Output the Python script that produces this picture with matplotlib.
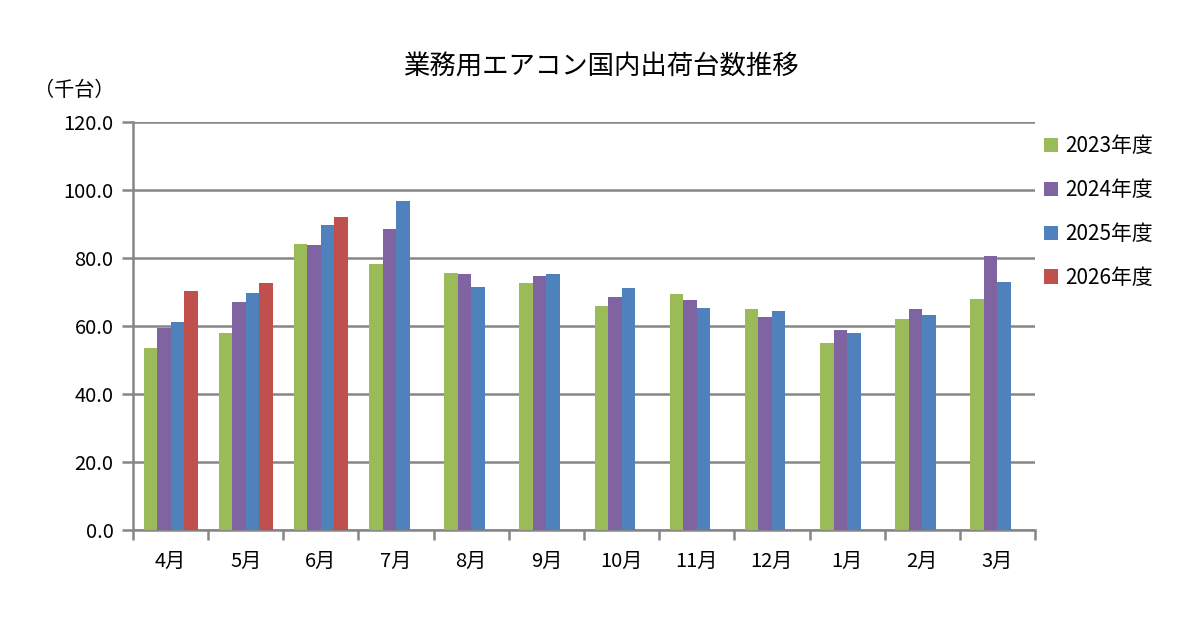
import numpy as np
import matplotlib
matplotlib.use('Agg')
import matplotlib.pyplot as plt

plt.rcParams['font.family'] = ['Noto Sans CJK JP', 'DejaVu Sans']

months = ['4月', '5月', '6月', '7月', '8月', '9月', '10月', '11月', '12月', '1月', '2月', '3月']
fy2023 = [53.5, 57.9, 84.2, 78.3, 75.6, 72.7, 65.9, 69.4, 65.0, 55.0, 62.0, 67.9]
fy2024 = [59.4, 67.1, 83.9, 88.6, 75.3, 74.8, 68.5, 67.6, 62.6, 58.8, 65.0, 80.6]
fy2025 = [61.2, 69.8, 89.8, 96.8, 71.5, 75.3, 71.2, 65.3, 64.4, 57.9, 63.2, 73.0]
fy2026 = [70.3, 72.7, 92.1, 0, 0, 0, 0, 0, 0, 0, 0, 0]
n2026 = 3  # months reported so far

series = [('2023年度', fy2023, '#9BBB59'),
          ('2024年度', fy2024, '#8064A2'),
          ('2025年度', fy2025, '#4F81BD'),
          ('2026年度', fy2026, '#C0504D')]

fig = plt.figure(figsize=(12.01, 6.28), dpi=100)
ax = fig.add_axes([133/1201, 1-530/628, (1035-133)/1201, (530-122)/628])

x = np.arange(len(months))
w = 0.18
for i, (name, vals, col) in enumerate(series):
    pos = x + (i - 1.5)*w
    if name == '2026年度':
        ax.bar(pos[:n2026], vals[:n2026], w, color=col, label=name, zorder=3)
    else:
        ax.bar(pos, vals, w, color=col, label=name, zorder=3)

grey = '#868686'
fs = 14.5
ax.set_ylim(0, 120)
ax.set_xlim(-0.5, len(months)-0.5)
ax.set_yticks(np.arange(0, 121, 20))
ax.set_yticklabels(['%.1f' % v for v in np.arange(0, 121, 20)], fontsize=fs)
ax.yaxis.grid(True, color=grey, lw=1.8, zorder=0)
ax.set_xticks(x)
ax.set_xticklabels(months, fontsize=fs)
ax.set_xticks(np.arange(-0.5, len(months), 1), minor=True)
ax.tick_params(axis='x', which='major', length=0, pad=15)
ax.tick_params(axis='x', which='minor', length=7, width=1.8, color=grey)
ax.tick_params(axis='y', length=8, width=1.8, color=grey, pad=6)
for s in ['top', 'right']:
    ax.spines[s].set_visible(False)
for s in ['left', 'bottom']:
    ax.spines[s].set_color(grey)
    ax.spines[s].set_linewidth(1.8)

fig.text(0.5, 1-67/628, '業務用エアコン国内出荷台数推移', ha='center', va='center', fontsize=19)
fig.text(74/1201, 1-91/628, '（千台）', ha='center', va='center', fontsize=fs)

ax.legend(loc='upper left', bbox_to_anchor=(0.989, 1.013), frameon=False, fontsize=15,
          handlelength=0.7, handleheight=0.7, handletextpad=0.35, labelspacing=1.05)

fig.savefig('out.png', dpi=100)
